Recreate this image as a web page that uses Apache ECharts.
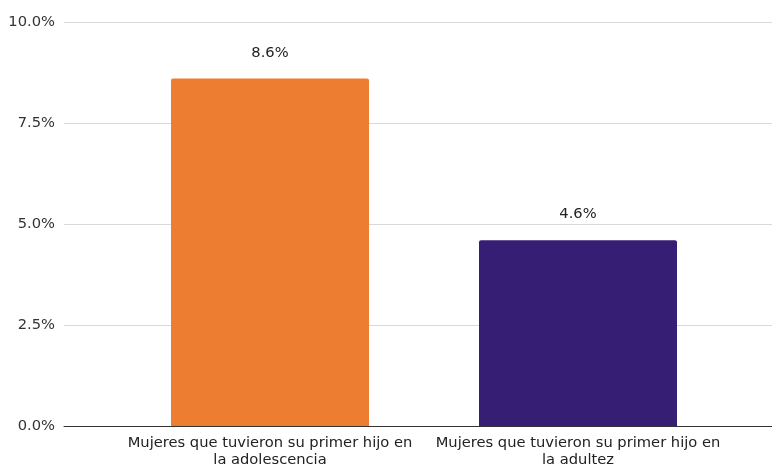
<!DOCTYPE html>
<html>
<head>
<meta charset="utf-8">
<script src="https://cdn.jsdelivr.net/npm/echarts@6/dist/echarts.min.js"></script>
<style>
  html, body { margin: 0; padding: 0; background: #fff; }
  #chart { width: 772px; height: 467px; }
</style>
</head>
<body>
<div id="chart"></div>
<script>
// Share of women, by age at first child
const categories = [
  'Mujeres que tuvieron su primer hijo en la adolescencia',
  'Mujeres que tuvieron su primer hijo en la adultez'
];
const values = [8.6, 4.6];
const barColors = ['#ED7D31', '#371E75'];
const yTicks = [0, 2.5, 5, 7.5, 10];

const fontFamily = '"DejaVu Sans", Arial, sans-serif';
const fontSize = 14.7;
const chart = echarts.init(document.getElementById('chart'), null, { renderer: 'canvas' });

chart.setOption({
  animation: false,
  backgroundColor: '#ffffff',
  grid: [
    // full-width grid carrying the gridlines and baseline
    { left: 64, right: 0, top: 22, bottom: 41, containLabel: false, outerBoundsMode: 'none' },
    // inner grid carrying the bars and category labels
    { left: 116, right: 40, top: 22, bottom: 41, containLabel: false, outerBoundsMode: 'none' }
  ],
  xAxis: [
    {
      gridIndex: 0, type: 'category', data: [''],
      axisLine: { show: true, lineStyle: { color: '#333333', width: 1 } },
      axisTick: { show: false }, axisLabel: { show: false }, splitLine: { show: false }
    },
    {
      gridIndex: 1, type: 'category', data: categories,
      axisLine: { show: false }, axisTick: { show: false },
      axisLabel: {
        interval: 0, color: '#222222', fontSize, fontFamily,
        margin: 9, lineHeight: 17,
        formatter: (v) => v.replace(/ (la \S+)$/, '\n$1')
      }
    }
  ],
  yAxis: [
    {
      gridIndex: 0, type: 'value', min: yTicks[0], max: yTicks[yTicks.length - 1],
      interval: yTicks[1] - yTicks[0],
      axisLine: { show: false }, axisTick: { show: false },
      axisLabel: {
        color: '#333333', fontSize, fontFamily, margin: 9,
        formatter: (v) => v.toFixed(1) + '%'
      },
      splitLine: { show: true, lineStyle: { color: '#d9d9d9', width: 1 } }
    },
    {
      gridIndex: 1, type: 'value', min: yTicks[0], max: yTicks[yTicks.length - 1],
      interval: yTicks[1] - yTicks[0], show: false
    }
  ],
  series: [
    {
      type: 'bar', xAxisIndex: 1, yAxisIndex: 1,
      barWidth: 198,
      data: values.map((v, i) => ({ value: v, itemStyle: { color: barColors[i] } })),
      itemStyle: { borderRadius: [2, 2, 0, 0] },
      label: {
        show: true, position: 'top', distance: 18,
        color: '#222222', fontSize, fontFamily,
        formatter: (p) => p.value.toFixed(1) + '%'
      }
    }
  ]
});
</script>
</body>
</html>
